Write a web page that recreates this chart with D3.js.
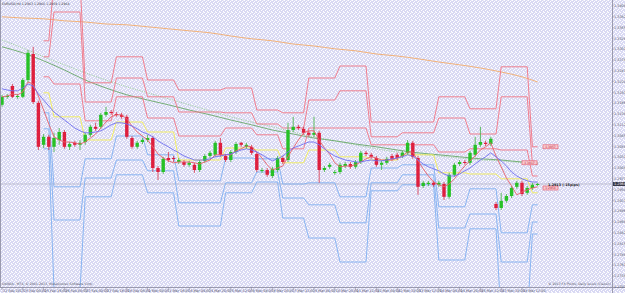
<!DOCTYPE html>
<html>
<head>
<meta charset="utf-8">
<script src="https://cdn.jsdelivr.net/npm/d3@7"></script>
<style>
  body { margin: 0; background: #fff; }
  svg { display: block; font-family: "DejaVu Sans", sans-serif; }
</style>
</head>
<body>
<script>
// EURUSD H4, 22 Feb - 19 Mar 2013
const open = [1.3162,1.3182,1.3209,1.3182,1.3182,1.3224,1.3289,1.3167,1.3062,1.3082,
  1.3057,1.3074,1.3094,1.3057,1.3067,1.3062,1.3069,1.3087,1.3107,1.3107,
  1.3137,1.3144,1.3139,1.3137,1.3132,1.3079,1.3057,1.3069,1.3074,1.3079,
  1.3004,1.2994,1.3029,1.3029,1.3019,1.3019,1.3012,1.3012,1.2999,1.3022,
  1.3034,1.3037,1.3067,1.3034,1.3024,1.3044,1.3067,1.3057,1.3057,1.3039,
  1.2997,1.2999,1.2984,1.2999,1.3029,1.3024,1.3099,1.3107,1.3102,1.3092,
  1.3087,1.3092,1.2999,1.3007,1.2992,1.2994,1.3009,1.3014,1.3007,1.3019,
  1.3042,1.3037,1.3029,1.3012,1.3017,1.3034,1.3037,1.3034,1.3042,1.3067,
  1.3029,1.2959,1.2964,1.2967,1.2962,1.2964,1.2932,1.2987,1.3014,1.3019,
  1.3017,1.3037,1.3062,1.3067,1.3064,1.2914,1.2904,1.2922,1.2934,1.2957,
  1.2967,1.2942,1.2954,1.2964];
const high = [1.3187,1.3189,1.3214,1.3189,1.3229,1.3299,1.3307,1.3172,1.3089,1.3087,
  1.3092,1.3104,1.3099,1.3069,1.3072,1.3074,1.3092,1.3112,1.3117,1.3142,
  1.3157,1.3149,1.3144,1.3142,1.3137,1.3084,1.3072,1.3079,1.3087,1.3084,
  1.3009,1.3032,1.3044,1.3034,1.3029,1.3024,1.3022,1.3017,1.3024,1.3039,
  1.3047,1.3072,1.3079,1.3039,1.3049,1.3069,1.3069,1.3067,1.3062,1.3044,
  1.3004,1.3004,1.3007,1.3034,1.3034,1.3117,1.3132,1.3112,1.3107,1.3097,
  1.3132,1.3097,1.3009,1.3017,1.2999,1.3017,1.3019,1.3019,1.3024,1.3047,
  1.3047,1.3042,1.3034,1.3022,1.3032,1.3039,1.3042,1.3047,1.3074,1.3072,
  1.3034,1.2972,1.2972,1.2972,1.2972,1.2969,1.2992,1.3017,1.3024,1.3024,
  1.3047,1.3082,1.3107,1.3072,1.3082,1.2919,1.2942,1.2939,1.2959,1.2972,
  1.2972,1.2959,1.2967,1.2967];
const low = [1.3157,1.3177,1.3179,1.3177,1.3179,1.3219,1.3164,1.3049,1.3054,1.3049,
  1.3044,1.3062,1.3052,1.3049,1.3057,1.3049,1.3062,1.3082,1.3097,1.3102,
  1.3132,1.3137,1.3132,1.3127,1.3077,1.3052,1.3052,1.3064,1.3069,1.2994,
  1.2974,1.2989,1.3019,1.3019,1.3014,1.3007,1.3007,1.2992,1.2994,1.3017,
  1.3029,1.3032,1.3032,1.3019,1.3019,1.3039,1.3057,1.3052,1.3037,1.2994,
  1.2992,1.2982,1.2979,1.2994,1.3014,1.3019,1.3094,1.3099,1.3087,1.3082,
  1.3082,1.2967,1.2994,1.3002,1.2987,1.2989,1.3004,1.3002,1.3002,1.3014,
  1.3034,1.3027,1.3007,1.2999,1.3012,1.3022,1.3024,1.3029,1.3037,1.3027,
  1.2937,1.2954,1.2959,1.2957,1.2957,1.2924,1.2927,1.2982,1.3009,1.3012,
  1.3012,1.3032,1.3057,1.3059,1.3059,1.2899,1.2899,1.2917,1.2929,1.2952,
  1.2934,1.2937,1.2949,1.2959];
const close = [1.3182,1.3184,1.3182,1.3184,1.3224,1.3292,1.3169,1.3057,1.3082,1.3057,
  1.3079,1.3094,1.3057,1.3064,1.3062,1.3067,1.3087,1.3107,1.3102,1.3137,
  1.3144,1.3142,1.3137,1.3132,1.3082,1.3057,1.3067,1.3074,1.3079,1.3004,
  1.2994,1.3027,1.3024,1.3027,1.3024,1.3012,1.3017,1.2999,1.3019,1.3034,
  1.3042,1.3067,1.3037,1.3024,1.3044,1.3064,1.3062,1.3062,1.3042,1.2999,
  1.2999,1.2987,1.3002,1.3029,1.3019,1.3099,1.3107,1.3104,1.3092,1.3087,
  1.3092,1.2999,1.3004,1.3012,1.2994,1.3012,1.3014,1.3007,1.3019,1.3042,
  1.3039,1.3032,1.3012,1.3017,1.3027,1.3027,1.3029,1.3042,1.3067,1.3032,
  1.2957,1.2967,1.2967,1.2962,1.2967,1.2932,1.2987,1.3012,1.3019,1.3017,
  1.3042,1.3062,1.3069,1.3064,1.3077,1.2904,1.2922,1.2934,1.2954,1.2967,
  1.2939,1.2954,1.2962,1.2964];

// fast averages, one value per bar
const blueMA = [1.3202,1.3199,1.3197,1.3197,1.3204,1.3214,1.3209,1.3189,1.3174,1.3159,
  1.3144,1.3134,1.3124,1.3114,1.3104,1.3097,1.3092,1.3092,1.3094,1.3097,
  1.3104,1.3112,1.3117,1.3117,1.3114,1.3109,1.3102,1.3094,1.3089,1.3082,
  1.3072,1.3064,1.3057,1.3049,1.3042,1.3034,1.3029,1.3024,1.3024,1.3024,
  1.3027,1.3032,1.3034,1.3037,1.3039,1.3044,1.3049,1.3052,1.3049,1.3044,
  1.3037,1.3029,1.3022,1.3027,1.3034,1.3044,1.3054,1.3059,1.3064,1.3069,
  1.3069,1.3062,1.3052,1.3042,1.3034,1.3029,1.3024,1.3022,1.3019,1.3019,
  1.3022,1.3024,1.3022,1.3022,1.3024,1.3027,1.3029,1.3032,1.3037,1.3034,
  1.3024,1.3014,1.3007,1.3002,1.2997,1.2989,1.2984,1.2984,1.2989,1.2997,
  1.3004,1.3014,1.3024,1.3032,1.3042,1.3032,1.3022,1.3009,1.2994,1.2984,
  1.2977,1.2972,1.2969,1.2969];
const redMA = [1.3182,1.3184,1.3189,1.3187,1.3194,1.3219,1.3214,1.3184,1.3149,1.3114,
  1.3082,1.3074,1.3069,1.3069,1.3067,1.3064,1.3069,1.3079,1.3089,1.3104,
  1.3119,1.3132,1.3137,1.3137,1.3127,1.3109,1.3094,1.3084,1.3074,1.3057,
  1.3039,1.3029,1.3022,1.3017,1.3019,1.3019,1.3019,1.3017,1.3014,1.3019,
  1.3024,1.3037,1.3037,1.3037,1.3037,1.3047,1.3052,1.3059,1.3057,1.3044,
  1.3029,1.3012,1.2999,1.3004,1.3009,1.3032,1.3054,1.3074,1.3092,1.3097,
  1.3097,1.3074,1.3054,1.3039,1.3017,1.3007,1.3009,1.3009,1.3012,1.3019,
  1.3027,1.3032,1.3029,1.3024,1.3024,1.3024,1.3029,1.3034,1.3044,1.3044,
  1.3022,1.3002,1.2984,1.2969,1.2962,1.2957,1.2964,1.2977,1.2994,1.3009,
  1.3022,1.3034,1.3049,1.3057,1.3067,1.3034,1.3007,1.2979,1.2959,1.2937,
  1.2944,1.2949,1.2954,1.2957];

// slow averages, one value every 4 bars
const slowBars = [0,4,8,12,16,20,24,28,32,36,40,44,48,52,56,60,64,68,72,76,80,84,88,92,96,100,103];
const greenMA = [1.3307,1.3292,1.3272,1.3249,1.3224,1.3204,1.3187,1.3174,1.3162,1.3149,1.3137,1.3124,1.3112,
  1.3099,1.3089,1.3079,1.3072,1.3064,1.3057,1.3049,1.3042,1.3037,1.3032,1.3027,1.3024,1.3019,1.3017];
const greenDotMA = [1.3324,1.3304,1.3282,1.3262,1.3242,1.3224,1.3207,1.3192,1.3177,1.3162,1.3147,1.3132,1.3119,
  1.3107,1.3094,1.3082,1.3072,1.3062,1.3052,1.3044,1.3039,1.3034,1.3029,1.3024,1.3022,1.3017,1.3014];
const orangeMA = [1.3382,1.3379,1.3377,1.3372,1.3369,1.3364,1.3362,1.3357,1.3352,1.3347,1.3342,1.3334,1.3327,
  1.3322,1.3314,1.3309,1.3302,1.3297,1.3289,1.3284,1.3277,1.3269,1.3262,1.3254,1.3244,1.3232,1.3219];

// daily pivot levels, one value per day; dayStart = first bar of each day
const dayStart = [8,10,16,22,28,34,43,49,54,59,65,71,77,84,90,96,102];
const pivotP  = [1.3192,1.3132,1.3074,1.3119,1.3094,1.3024,1.3054,1.3049,1.3017,1.3049,1.3032,1.3024,1.3037,1.2992,1.2989,1.2977,1.2942];
const pivotR1 = [1.3232,1.3214,1.3122,1.3182,1.3129,1.3084,1.3104,1.3087,1.3052,1.3104,1.3104,1.3062,1.3062,1.3044,1.3052,1.3049,1.2984];
const pivotR2 = [1.3282,1.3394,1.3169,1.3229,1.3182,1.3144,1.3142,1.3114,1.3104,1.3174,1.3197,1.3082,1.3092,1.3129,1.3089,1.3182,1.3014];
const pivotR3 = [1.3322,1.3472,1.3217,1.3282,1.3224,1.3199,1.3204,1.3149,1.3142,1.3229,1.3259,1.3119,1.3119,1.3182,1.3152,1.3257,1.3057];
const pivotS1 = [1.3142,1.2957,1.3027,1.3084,1.3037,1.2972,1.3029,1.3027,1.2964,1.2967,1.2932,1.3004,1.3012,1.2907,1.2952,1.2842,1.2912];
const pivotS2 = [1.3102,1.2874,1.2979,1.3024,1.2997,1.2917,1.2967,1.2994,1.2929,1.2912,1.2867,1.2967,1.2987,1.2854,1.2889,1.2769,1.2869];
const pivotS3 = [1.3052,1.2699,1.2932,1.2987,1.2942,1.2859,1.2942,1.2969,1.2879,1.2829,1.2769,1.2947,1.2962,1.2774,1.2852,1.2629,1.2839];

const timeLabels = ["22 Feb 2013","25 Feb 00:00","25 Feb 16:00","26 Feb 08:00","27 Feb 00:00","27 Feb 16:00",
  "28 Feb 08:00","1 Mar 00:00","1 Mar 16:00","4 Mar 04:00","4 Mar 20:00","5 Mar 12:00","6 Mar 04:00",
  "6 Mar 20:00","7 Mar 12:00","8 Mar 04:00","10 Mar 20:00","11 Mar 12:00","12 Mar 04:00","12 Mar 20:00",
  "13 Mar 12:00","14 Mar 04:00","14 Mar 20:00","15 Mar 12:00","17 Mar 20:00","18 Mar 12:00"];
const priceTicks = [1.3409,1.3382,1.3355,1.3328,1.3301,1.3274,1.3247,1.3220,1.3193,1.3166,1.3139,1.3112,1.3085,
  1.3058,1.3031,1.3004,1.2977,1.2950,1.2923,1.2896,1.2869,1.2842,1.2815,1.2788,1.2761,1.2734,1.2707];

const W = 625, H = 293, plotR = 612, plotB = 287;
const n = open.length;

const x = d3.scaleLinear().domain([0, 103]).range([2, 537.6]);
const y = d3.scaleLinear().domain([1.3424, 1.27065]).range([0, plotB]);

const svg = d3.select("body").append("svg").attr("width", W).attr("height", H);

// dithered lavender background
const defs = svg.append("defs");
const pat = defs.append("pattern").attr("id", "dots")
  .attr("width", 4).attr("height", 4).attr("patternUnits", "userSpaceOnUse");
pat.append("rect").attr("width", 4).attr("height", 4).attr("fill", "#d9d9f3");
[[0, 0], [2, 1], [3, 3], [1, 2], [3, 0]].forEach(([px, py], k) => {
  pat.append("rect").attr("x", px).attr("y", py).attr("width", 1).attr("height", 1)
    .attr("fill", k === 4 ? "#eeeefb" : "#ffffff");
});
defs.append("clipPath").attr("id", "plot").append("rect")
  .attr("x", 0).attr("y", 0).attr("width", plotR).attr("height", plotB);

svg.append("rect").attr("width", W).attr("height", H).attr("fill", "url(#dots)");

const g = svg.append("g").attr("clip-path", "url(#plot)");

// current price line
const last = close[n - 1];
g.append("line").attr("x1", 0).attr("x2", plotR)
  .attr("y1", y(last)).attr("y2", y(last))
  .attr("stroke", "#b2b2c6").attr("stroke-width", 0.8);

// slow averages
function slowLine(vals) {
  return d3.line().x((d, i) => x(slowBars[i])).y(d => y(d)).curve(d3.curveMonotoneX)(vals);
}
g.append("path").attr("d", slowLine(orangeMA)).attr("fill", "none")
  .attr("stroke", "#f2b27a").attr("stroke-width", 1);
g.append("path").attr("d", slowLine(greenDotMA)).attr("fill", "none")
  .attr("stroke", "#9ccf9c").attr("stroke-width", 0.9).attr("stroke-dasharray", "1.2,1.2");
g.append("path").attr("d", slowLine(greenMA)).attr("fill", "none")
  .attr("stroke", "#6aa86a").attr("stroke-width", 0.9);

// daily pivots
function dayOf(i) {
  let d = 0;
  for (let k = 0; k < dayStart.length; k++) if (i >= dayStart[k]) d = k;
  return d;
}
const pivBars = d3.range(dayStart[0], n);
function pivLine(levels) {
  return d3.line().x(i => x(i)).y(i => y(levels[dayOf(i)]))(pivBars);
}
[pivotR1, pivotR2, pivotR3].forEach(lv => {
  g.append("path").attr("d", pivLine(lv)).attr("fill", "none")
    .attr("stroke", "#f27483").attr("stroke-width", 0.9);
});
[pivotS1, pivotS2, pivotS3].forEach(lv => {
  g.append("path").attr("d", pivLine(lv)).attr("fill", "none")
    .attr("stroke", "#7fb0f2").attr("stroke-width", 0.9);
});
g.append("path").attr("d", pivLine(pivotP)).attr("fill", "none")
  .attr("stroke", "#f4ee55").attr("stroke-width", 0.9);

// candles
const bars = d3.range(n);
const up = i => close[i] >= open[i];
const bw = 3.4;
g.selectAll(".wick").data(bars).join("line").attr("class", "wick")
  .attr("x1", i => x(i)).attr("x2", i => x(i))
  .attr("y1", i => y(high[i])).attr("y2", i => y(low[i]))
  .attr("stroke", i => up(i) ? "#3cb43c" : "#d83048").attr("stroke-width", 0.8);
g.selectAll(".body").data(bars).join("rect").attr("class", "body")
  .attr("x", i => x(i) - bw / 2).attr("width", bw)
  .attr("y", i => y(Math.max(open[i], close[i])))
  .attr("height", i => Math.max(1, Math.abs(y(open[i]) - y(close[i]))))
  .attr("fill", i => up(i) ? "#27c127" : "#de1f3e");

// fast averages
g.append("path").attr("d", d3.line().x((d, i) => x(i)).y(d => y(d))(redMA))
  .attr("fill", "none").attr("stroke", "#e8606a").attr("stroke-width", 0.9);
g.append("path").attr("d", d3.line().x((d, i) => x(i)).y(d => y(d))(blueMA))
  .attr("fill", "none").attr("stroke", "#6f6ff0").attr("stroke-width", 0.9);

// level tags at the right end
const lastDay = dayStart.length - 1;
const tags = [
  { v: pivotR3[lastDay], x: 543 },
  { v: greenMA[greenMA.length - 1], x: 522 },
  { v: 1.2954, x: 543 }
];
tags.forEach(t => {
  const ty = y(t.v);
  svg.append("rect").attr("x", t.x).attr("y", ty - 2).attr("width", 15).attr("height", 4)
    .attr("fill", "#f7c9cf").attr("stroke", "#e4566a").attr("stroke-width", 0.6);
  svg.append("text").attr("x", t.x + 7.5).attr("y", ty + 1.1).attr("text-anchor", "middle")
    .attr("font-size", 3).attr("fill", "#c02030").text(t.v.toFixed(4));
});
svg.append("text").attr("x", 548).attr("y", y(last) + 1.8)
  .attr("font-size", 3.4).attr("font-weight", "bold").attr("fill", "#202028")
  .text("1.2913 (-15pips)");

// frame
svg.append("line").attr("x1", 0.5).attr("x2", 0.5).attr("y1", 0).attr("y2", plotB)
  .attr("stroke", "#9a9aae").attr("stroke-width", 1);
svg.append("line").attr("x1", plotR + 0.5).attr("x2", plotR + 0.5).attr("y1", 0).attr("y2", H)
  .attr("stroke", "#9a9aae").attr("stroke-width", 1);
svg.append("line").attr("x1", 0).attr("x2", W).attr("y1", plotB + 0.5).attr("y2", plotB + 0.5)
  .attr("stroke", "#9a9aae").attr("stroke-width", 1);

// price axis
priceTicks.forEach(p => {
  svg.append("line").attr("x1", plotR).attr("x2", plotR + 1.5).attr("y1", y(p)).attr("y2", y(p))
    .attr("stroke", "#8a8aa0").attr("stroke-width", 0.6);
  svg.append("text").attr("x", plotR + 2).attr("y", y(p) + 1.2)
    .attr("font-size", 3.4).attr("fill", "#5a5a6e").text(p.toFixed(4));
});
svg.append("rect").attr("x", plotR + 1).attr("y", y(last) - 2).attr("width", 12).attr("height", 4)
  .attr("fill", "#3a3a4a");
svg.append("text").attr("x", plotR + 2).attr("y", y(last) + 1.2)
  .attr("font-size", 3.4).attr("fill", "#ffffff").text(last.toFixed(4));

// time axis
timeLabels.forEach((t, k) => {
  const tx = x(k * 4);
  svg.append("line").attr("x1", tx).attr("x2", tx).attr("y1", plotB).attr("y2", plotB + 3)
    .attr("stroke", "#8a8aa0").attr("stroke-width", 0.6);
  svg.append("text").attr("x", tx + 1).attr("y", plotB + 4.6)
    .attr("font-size", 3.4).attr("fill", "#5a5a6e").text(t);
});

// captions
svg.append("text").attr("x", 2).attr("y", 4.5).attr("font-size", 3.2).attr("fill", "#3a3a4a")
  .text("EURUSD,H4  1.2963 1.2966 1.2959 1.2964");
svg.append("text").attr("x", 2).attr("y", plotB - 2).attr("font-size", 3.2).attr("fill", "#5a5a6e")
  .text("OANDA - MT4, © 2001-2013, MetaQuotes Software Corp.");
svg.append("text").attr("x", plotR - 1).attr("y", plotB - 2).attr("text-anchor", "end")
  .attr("font-size", 3.2).attr("fill", "#5a5a6e").text("© 2013 FX Pivots, Daily levels (Classic)");
</script>
</body>
</html>
